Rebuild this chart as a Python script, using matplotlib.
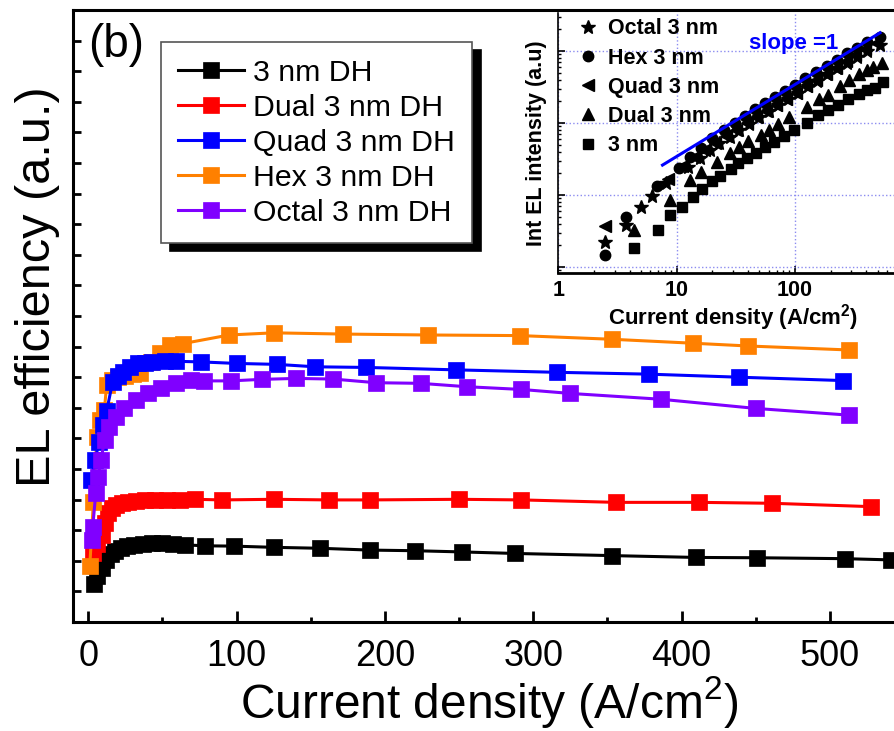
import matplotlib
matplotlib.use('Agg')
import matplotlib.pyplot as plt
import numpy as np

plt.rcParams['font.family'] = ['Liberation Sans', 'DejaVu Sans']
plt.rcParams['mathtext.fontset'] = 'custom'
plt.rcParams['mathtext.rm'] = 'Liberation Sans'
plt.rcParams['mathtext.bf'] = 'Liberation Sans:bold'

# EL efficiency vs current density (A/cm2), arbitrary units
dh3_x = [4, 6, 9, 12, 15, 18, 22, 26, 31, 37, 43, 50, 57, 65, 79, 98, 125, 156, 190, 220, 252, 288, 353, 410, 451, 510, 541]
dh3_y = [1.25, 1.5, 1.78, 2.02, 2.22, 2.33, 2.41, 2.47, 2.52, 2.55, 2.57, 2.57, 2.55, 2.52, 2.49, 2.48, 2.44, 2.41, 2.35,
         2.33, 2.29, 2.24, 2.17, 2.11, 2.10, 2.07, 2.03]
dual_x = [3, 6, 9, 11, 13, 16, 19, 23, 27, 32, 38, 45, 53, 62, 72, 90, 125, 162, 190, 250, 292, 356, 412, 461, 528]
dual_y = [2.24, 2.55, 2.84, 3.25, 3.55, 3.72, 3.82, 3.88, 3.93, 3.96, 3.98, 3.99, 4.0, 4.0, 4.01, 3.99, 4.01, 3.99, 3.99,
          4.01, 3.99, 3.91, 3.91, 3.88, 3.77]
quad_x = [1.8, 4.5, 7.4, 10, 12.4, 16.4, 20, 23.2, 28, 33.3, 38, 43, 52, 59, 76, 100, 127, 153, 187, 248, 316, 378, 439, 509]
quad_y = [4.64, 5.3, 5.89, 6.45, 6.9, 7.85, 8.05, 8.18, 8.33, 8.45, 8.48, 8.5, 8.52, 8.52, 8.5, 8.45, 8.42, 8.34, 8.32,
          8.24, 8.16, 8.10, 8.0, 7.89]
hex_x = [1, 3.4, 5.7, 8, 10.8, 12.4, 16, 20, 25, 30, 35, 42, 48, 55, 64, 95, 125, 172, 229, 291, 353, 408, 445, 513]
hex_y = [1.83, 3.93, 6.03, 6.6, 6.93, 7.75, 7.9, 8.0, 8.05, 8.1, 8.13, 8.5, 8.8, 9.05, 9.1, 9.38, 9.45, 9.41, 9.38, 9.36,
         9.24, 9.11, 9.02, 8.89]
octal_x = [2.6, 3, 5, 6.5, 8.5, 11, 14, 19, 24, 32, 40, 49, 59, 69, 78, 96, 117, 140, 165, 194, 224, 255, 292, 325, 386,
           450, 513]
octal_y = [2.68, 3.12, 4.2, 4.75, 5.29, 5.95, 6.38, 6.71, 6.98, 7.25, 7.47, 7.64, 7.8, 7.9, 7.88, 7.88, 7.93, 7.96, 7.94,
           7.82, 7.8, 7.69, 7.6, 7.47, 7.28, 6.98, 6.76]

# integrated EL intensity vs current density (log-log inset)
i3_x = [4.4, 6.9, 8.8, 11.2, 13.8, 16.3, 19.8, 23.3, 28.8, 33.3, 39.7, 46.9, 55.9, 66.6, 80.9, 98, 126, 158, 192, 232,
        281, 349, 405, 477, 560]
i3_y = [182, 324, 525, 676, 955, 1230, 1550, 1820, 2340, 2750, 3240, 3800, 4680, 5500, 6610, 7940, 10000, 12900, 15100,
        17800, 21400, 25100, 28800, 30900, 37200]
idual_x = [4.4, 8.8, 13, 16.1, 21.8, 28.3, 33.9, 40.4, 51.4, 60.8, 72.4, 89.7, 126, 161, 191, 240, 288, 350, 404, 460, 542]
idual_y = [324, 851, 1620, 2090, 2880, 3800, 4680, 5620, 6920, 7940, 9770, 12300, 17000, 21900, 24500, 32400, 39800,
           47900, 55000, 60300, 69200]
iquad_x = [2.5, 8.5, 11, 14, 17, 21, 26, 32, 39, 47, 57, 69, 84, 102, 124, 150, 182, 221, 268, 325, 395, 480]
iquad_y = [372, 1660, 2510, 3390, 4270, 5370, 6610, 8130, 10000, 12000, 14800, 17800, 21900, 26300, 32400, 39800, 47900,
           58900, 72400, 87100, 107000, 129000]
ihex_x = [2.5, 3.7, 6.8, 10.5, 13, 16, 20, 25, 31, 38, 46, 56, 68, 82, 100, 122, 150, 185, 225, 275, 335, 410, 524]
ihex_y = [148, 500, 1320, 2400, 3390, 4570, 6170, 7940, 10000, 12600, 15500, 19100, 22900, 28200, 33900, 41700, 51300,
          63100, 75900, 93300, 112000, 132000, 158000]
ioct_x = [2.5, 3.7, 5.0, 6.2, 8.1, 12.6, 15.8, 19, 23, 28, 34, 41, 50, 60, 72, 88, 106, 128, 155, 188, 228, 275, 335,
          410, 524]
ioct_y = [224, 380, 676, 977, 1450, 2450, 3240, 4170, 5250, 6460, 7940, 9770, 12000, 14500, 17800, 21400, 26300, 32400,
          38900, 47900, 57500, 69200, 83200, 100000, 120000]
slope_x = [7.6, 524]
slope_y = [2610, 180000]

labels = ['3 nm DH', 'Dual 3 nm DH', 'Quad 3 nm DH', 'Hex 3 nm DH', 'Octal 3 nm DH']
colors = ['black', '#ff0000', '#0000ff', '#ff8000', '#8000ff']

W, H = 895, 731
fig = plt.figure(figsize=(W / 100, H / 100), dpi=100)
ax = fig.add_axes([0.0821, 0.1491, 0.928, 0.8372])

series = [(dh3_x, dh3_y), (dual_x, dual_y), (quad_x, quad_y), (hex_x, hex_y), (octal_x, octal_y)]
zorders = [2, 3, 5, 4, 6]
for (xs, ys), lab, c, z in zip(series, labels, colors, zorders):
    ax.plot(xs, ys, '-s', color=c, lw=2.2, ms=12, mec=c, mew=0.5, label=lab, zorder=z)

ax.set_xlim(-10, 550)
ax.set_ylim(0, 20)
ax.set_xticks([0, 100, 200, 300, 400, 500])
ax.set_xticks([50, 150, 250, 350, 450], minor=True)
ax.set_yticks(np.arange(1, 20))
ax.set_yticklabels([])
ax.tick_params(axis='x', which='major', direction='in', length=8, width=2, labelsize=26, pad=12)
ax.tick_params(axis='x', which='minor', direction='in', length=3.5, width=2)
ax.tick_params(axis='y', direction='in', length=6, width=2)
for s in ['left', 'bottom', 'top']:
    ax.spines[s].set_linewidth(2.2)
ax.spines['right'].set_visible(False)

ax.set_xlabel('Current density (A/cm$^{2}$)', fontsize=34.5, labelpad=0)
ax.set_ylabel('EL efficiency (a.u.)', fontsize=35)
ax.yaxis.set_label_coords(-0.016, 0.548)
ax.text(0.0175, 0.978, '(b)', transform=ax.transAxes, fontsize=33, va='top', ha='left')

leg = ax.legend(loc='upper left', bbox_to_anchor=(161 / W, 1 - 42 / H), bbox_transform=fig.transFigure,
                fontsize=21.8, handlelength=2.2, handletextpad=0.3, labelspacing=0.23, borderpad=0.55,
                borderaxespad=0, fancybox=False, framealpha=1,
                shadow={'ox': 6.5, 'oy': -6, 'shade': 1.0, 'alpha': 1})
leg.get_frame().set_edgecolor('#555555')
leg.get_frame().set_linewidth(1.2)

# inset: log-log integrated intensity
ins = fig.add_axes([558.3 / W, 1 - 273 / H, 349.5 / W, 260 / H])
ins.patch.set_alpha(0)
ins.set_xscale('log')
ins.set_yscale('log')
ins.plot(ioct_x, ioct_y, '*', color='black', ms=10, label='Octal 3 nm')
ins.plot(ihex_x, ihex_y, 'o', color='black', ms=7.5, label='Hex 3 nm')
ins.plot(iquad_x, iquad_y, '<', color='black', ms=8, label='Quad 3 nm')
ins.plot(idual_x, idual_y, '^', color='black', ms=8, label='Dual 3 nm')
ins.plot(i3_x, i3_y, 's', color='black', ms=6.5, label='3 nm')
ins.plot(slope_x, slope_y, '-', color='#0000ff', lw=2.2)
ins.text(749 / W, 1 - 44 / H, 'slope =1', transform=fig.transFigure, color='#0000ff', fontsize=16,
         fontweight='bold', va='center', ha='left')
ins.set_xlim(1, 900)
ins.set_ylim(82.6, 339000)
ins.grid(True, which='major', color='#8c8cf0', ls=':', lw=1)
ins.set_xticks([1, 10, 100])
ins.set_xticklabels(['1', '10', '100'])
ins.set_yticks([1e2, 1e3, 1e4, 1e5])
ins.set_yticklabels([])
ins.tick_params(which='both', direction='in')
ins.tick_params(which='major', length=5, width=1.2, labelsize=15.5, pad=5)
ins.tick_params(which='minor', length=2.5, width=1)
ins.yaxis.set_minor_formatter(plt.NullFormatter())
ins.xaxis.set_minor_formatter(plt.NullFormatter())
for lab in ins.get_xticklabels():
    lab.set_fontweight('bold')
ins.spines['left'].set_linewidth(1.2)
ins.spines['bottom'].set_linewidth(2)
ins.spines['top'].set_visible(False)
ins.spines['right'].set_visible(False)
ins.set_xlabel(r'Current density (A/cm$^{\mathbf{2}}$)', fontsize=16, fontweight='bold', labelpad=1)
ins.set_ylabel('Int EL intensity (a.u)', fontsize=15.5, fontweight='bold', labelpad=3)
ins.legend(loc='upper left', bbox_to_anchor=(574 / W, 1 - 12 / H), bbox_transform=fig.transFigure,
           frameon=False, handlelength=0.7, handletextpad=0.6, labelspacing=0.38, borderpad=0.3,
           borderaxespad=0, prop={'size': 15.5, 'weight': 'bold'})

fig.savefig('out.png', dpi=100)
